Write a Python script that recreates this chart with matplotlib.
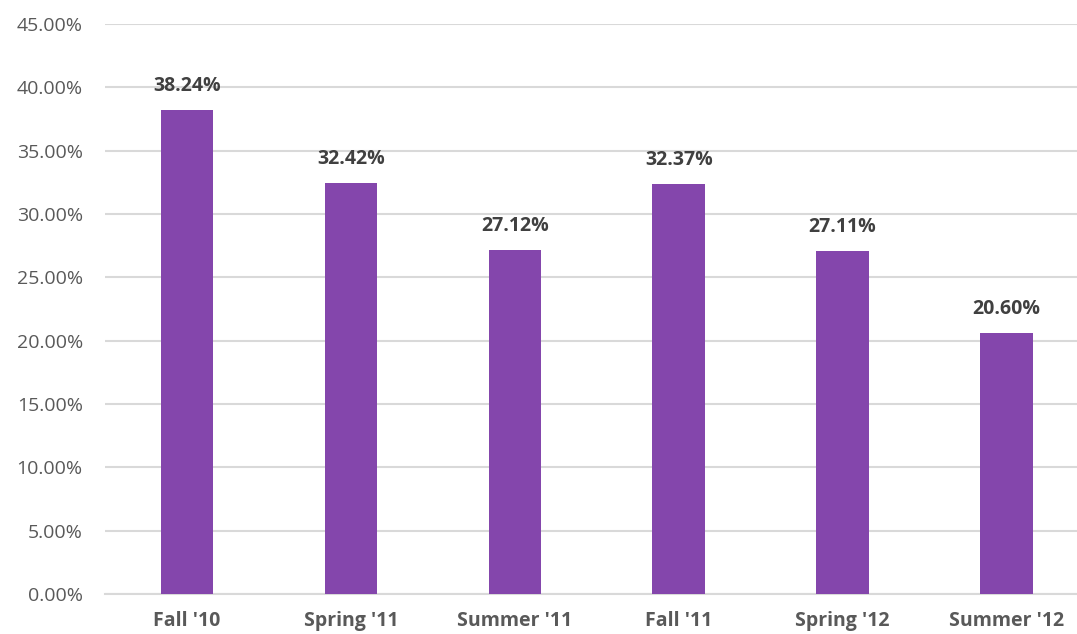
import matplotlib.pyplot as plt
from matplotlib.ticker import PercentFormatter

plt.rcParams['font.family'] = ['Open Sans', 'DejaVu Sans']

# Data
terms = ["Fall '10", "Spring '11", "Summer '11", "Fall '11", "Spring '12", "Summer '12"]
rates = [38.24, 32.42, 27.12, 32.37, 27.11, 20.60]

fig = plt.figure(figsize=(10.77, 6.34), dpi=100)
ax = fig.add_axes([105 / 1077, 40 / 634, 1 - 105 / 1077, 570 / 634])

x = range(len(terms))
bars = ax.bar(x, rates, width=0.32, color="#8446AC", zorder=3)

for xi, v in zip(x, rates):
    ax.annotate(f"{v:.2f}%", (xi, v), xytext=(0, 14), textcoords="offset pixels",
                ha="center", va="bottom", fontsize=14, fontweight="bold", color="#404040")

ax.set_xlim(-0.5, 5.43)
ax.set_ylim(0, 45)
ax.set_yticks(range(0, 46, 5))
ax.yaxis.set_major_formatter(PercentFormatter(decimals=2))
ax.set_xticks(list(x))
ax.set_xticklabels(terms, fontsize=14, fontweight="bold", color="#595959")
ax.tick_params(axis="y", labelsize=14, labelcolor="#595959", length=0, pad=16)
ax.tick_params(axis="x", length=0, pad=12)

ax.grid(axis="y", color="#d9d9d9", linewidth=1.5, zorder=0)
for s in ["top", "right", "left"]:
    ax.spines[s].set_visible(False)
ax.spines["bottom"].set_color("#d9d9d9")
ax.spines["bottom"].set_linewidth(1.5)

fig.savefig("out.png", dpi=100)
